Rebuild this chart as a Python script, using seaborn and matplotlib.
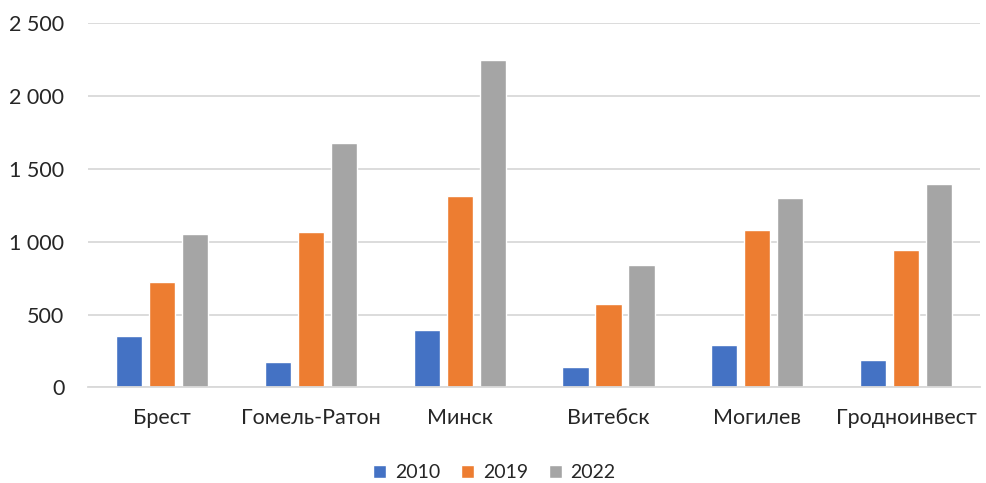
import matplotlib
matplotlib.use("Agg")
import matplotlib.pyplot as plt
import seaborn as sns
import pandas as pd
from matplotlib.ticker import FuncFormatter

categories = ["Брест", "Гомель-Ратон", "Минск", "Витебск", "Могилев", "Гродноинвест"]
years = ["2010", "2019", "2022"]
v2010 = [352, 172, 396, 137, 291, 190]
v2019 = [723, 1067, 1312, 572, 1078, 943]
v2022 = [1055, 1676, 2244, 840, 1303, 1397]
colors = ["#4472C4", "#ED7D31", "#A5A5A5"]

rows = []
for y, vals in zip(years, [v2010, v2019, v2022]):
    for c, v in zip(categories, vals):
        rows.append({"region": c, "year": y, "value": v})
df = pd.DataFrame(rows)

sns.set_theme(style="white")
plt.rcParams['font.family'] = ['Lato', 'DejaVu Sans']

fs = 15.5
fig = plt.figure(figsize=(9.86, 4.83), dpi=100)
ax = fig.add_axes([0.0892, 0.198, 0.905, 0.754])

sns.barplot(data=df, x="region", y="value", hue="year", order=categories,
            hue_order=years, palette=colors, width=0.666, gap=0.21,
            saturation=1, ax=ax, legend=True)

ax.set_ylim(0, 2500)
ax.set_xlim(-0.5, len(categories) - 0.5)
ax.set_yticks([0, 500, 1000, 1500, 2000, 2500])
ax.yaxis.set_major_formatter(FuncFormatter(lambda v, p: f"{int(v):,}".replace(",", " ")))
ax.grid(axis="y", color="#D9D9D9", linewidth=1.3)
ax.set_axisbelow(True)
for s in ["top", "right", "left"]:
    ax.spines[s].set_visible(False)
ax.spines["bottom"].set_color("#D9D9D9")
ax.spines["bottom"].set_linewidth(1.3)
ax.tick_params(axis="y", length=0, pad=17, labelsize=fs, labelcolor="#262626")
ax.tick_params(axis="x", length=0, pad=15, labelsize=fs, labelcolor="#262626")
ax.set_xlabel("")
ax.set_ylabel("")

handles, labels = ax.get_legend_handles_labels()
ax.legend(handles, labels, loc="center", bbox_to_anchor=(0.5015, 0.022),
          bbox_transform=fig.transFigure, ncol=3, frameon=False,
          fontsize=14, handlelength=0.65, handleheight=0.65,
          handletextpad=0.45, columnspacing=1.1, labelcolor="#262626")

fig.savefig("out.png", dpi=100)
